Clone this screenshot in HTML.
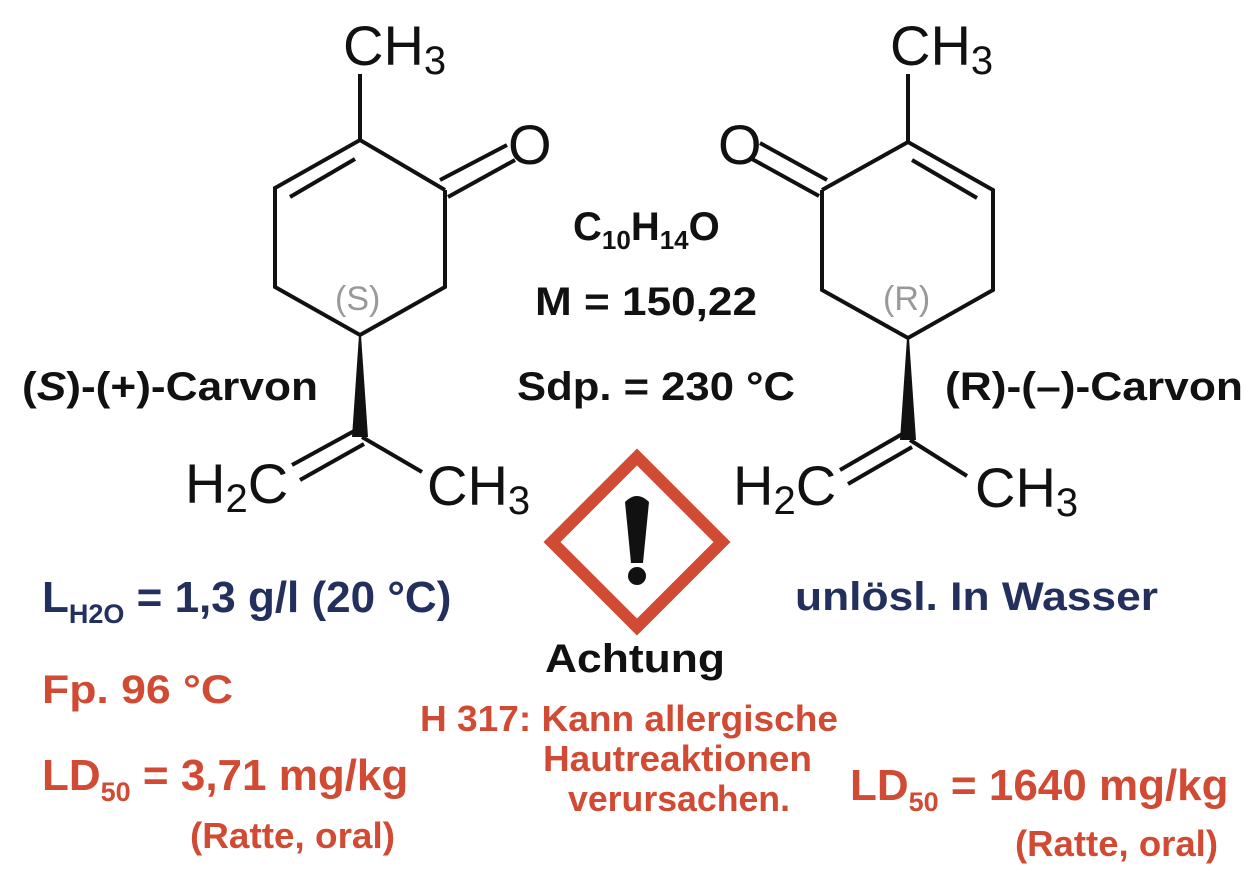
<!DOCTYPE html>
<html><head><meta charset="utf-8"><style>
html,body{margin:0;padding:0;background:#fff}
svg{display:block}
.m{font-family:"Liberation Sans",sans-serif;font-size:56px;fill:#111}
.s{font-size:40px}
.b{font-family:"Liberation Sans",sans-serif;font-weight:bold;font-size:40px;fill:#111}
.bl{fill:#232f5c}
.r{fill:#d14a33}
.g{font-family:"Liberation Sans",sans-serif;font-size:34px;fill:#999}
</style></head><body>
<svg width="1260" height="878" viewBox="0 0 1260 878">
<g stroke="#111" stroke-width="4" fill="none" stroke-linecap="butt">
<line x1="360" y1="74" x2="360" y2="140"/>
<polyline points="445,190 360,140 275,188 275,287 360,335 445,287 445,190"/>
<line x1="290" y1="197" x2="355" y2="159"/>
<line x1="440" y1="180" x2="507" y2="145"/>
<line x1="448" y1="197" x2="515" y2="160"/>
<line x1="356" y1="430" x2="292" y2="465"/>
<line x1="364" y1="444" x2="300" y2="480"/>
<line x1="362" y1="437" x2="422" y2="472"/>
<line x1="908" y1="74" x2="908" y2="142"/>
<polyline points="822,190 908,142 993,190 993,290 908,338 822,290 822,190"/>
<line x1="912" y1="160" x2="977" y2="198"/>
<line x1="827" y1="180" x2="760" y2="143"/>
<line x1="819" y1="196" x2="752" y2="159"/>
<line x1="904" y1="433" x2="840" y2="470"/>
<line x1="912" y1="447" x2="848" y2="484"/>
<line x1="910" y1="440" x2="967" y2="476"/>
</g>
<polygon points="359,335 361,335 368,437 352,437" fill="#111"/>
<polygon points="907,338 909,338 916,440 900,440" fill="#111"/>
<text class="g" x="335" y="310">(S)</text>
<text class="g" x="883" y="310">(R)</text>
<text class="m" x="343" y="65">CH<tspan class="s" dy="9">3</tspan></text>
<text class="m" x="508" y="164">O</text>
<text class="m" x="185" y="503">H<tspan class="s" dy="9">2</tspan><tspan dy="-9">C</tspan></text>
<text class="m" x="427" y="505">CH<tspan class="s" dy="9">3</tspan></text>
<text class="m" x="890" y="65">CH<tspan class="s" dy="9">3</tspan></text>
<text class="m" x="718" y="164">O</text>
<text class="m" x="733" y="505">H<tspan class="s" dy="9">2</tspan><tspan dy="-9">C</tspan></text>
<text class="m" x="975" y="507">CH<tspan class="s" dy="9">3</tspan></text>
<text class="b" x="22" y="400" textLength="296" lengthAdjust="spacingAndGlyphs">(<tspan font-style="italic">S</tspan>)-(+)-Carvon</text>
<text class="b" x="945" y="400" textLength="298" lengthAdjust="spacingAndGlyphs">(R)-(–)-Carvon</text>
<text class="b" x="573" y="240">C<tspan style="font-size:26px" dy="9">10</tspan><tspan dy="-9">H</tspan><tspan style="font-size:26px" dy="9">14</tspan><tspan dy="-9">O</tspan></text>
<text class="b" x="535" y="315" textLength="222" lengthAdjust="spacingAndGlyphs">M = 150,22</text>
<text class="b" x="517" y="400" textLength="278" lengthAdjust="spacingAndGlyphs">Sdp. = 230 °C</text>
<polygon points="637,457 722,542 637,627 552,542" fill="none" stroke="#d14a33" stroke-width="12" stroke-linejoin="miter"/>
<path d="M625,502 Q637,490 649,502 L643,563 L631,563 Z" fill="#111"/>
<circle cx="637" cy="576" r="9" fill="#111"/>
<text class="b" x="545" y="672" textLength="180" lengthAdjust="spacingAndGlyphs">Achtung</text>
<text class="b bl" x="42" y="612" style="font-size:44px">L<tspan style="font-size:27px" dy="11">H2O</tspan><tspan dy="-11"> = 1,3 g/l (20 °C)</tspan></text>
<text class="b bl" x="795" y="610" textLength="363" lengthAdjust="spacingAndGlyphs">unlösl. In Wasser</text>
<text class="b r" x="42" y="703" textLength="191" lengthAdjust="spacingAndGlyphs">Fp. 96 °C</text>
<text class="b r" x="42" y="790" style="font-size:44px">LD<tspan style="font-size:27px" dy="11">50</tspan><tspan dy="-11"> = 3,71 mg/kg</tspan></text>
<text class="b r" x="190" y="848" style="font-size:36px" textLength="205" lengthAdjust="spacingAndGlyphs">(Ratte, oral)</text>
<text class="b r" x="850" y="800" style="font-size:44px">LD<tspan style="font-size:27px" dy="11">50</tspan><tspan dy="-11"> = 1640 mg/kg</tspan></text>
<text class="b r" x="1015" y="856" style="font-size:36px" textLength="203" lengthAdjust="spacingAndGlyphs">(Ratte, oral)</text>
<text class="b r" x="420" y="731" style="font-size:36px" textLength="418" lengthAdjust="spacingAndGlyphs">H 317: Kann allergische</text>
<text class="b r" x="543" y="771" style="font-size:36px" textLength="269" lengthAdjust="spacingAndGlyphs">Hautreaktionen</text>
<text class="b r" x="568" y="811" style="font-size:36px" textLength="222" lengthAdjust="spacingAndGlyphs">verursachen.</text>
</svg>
</body></html>
